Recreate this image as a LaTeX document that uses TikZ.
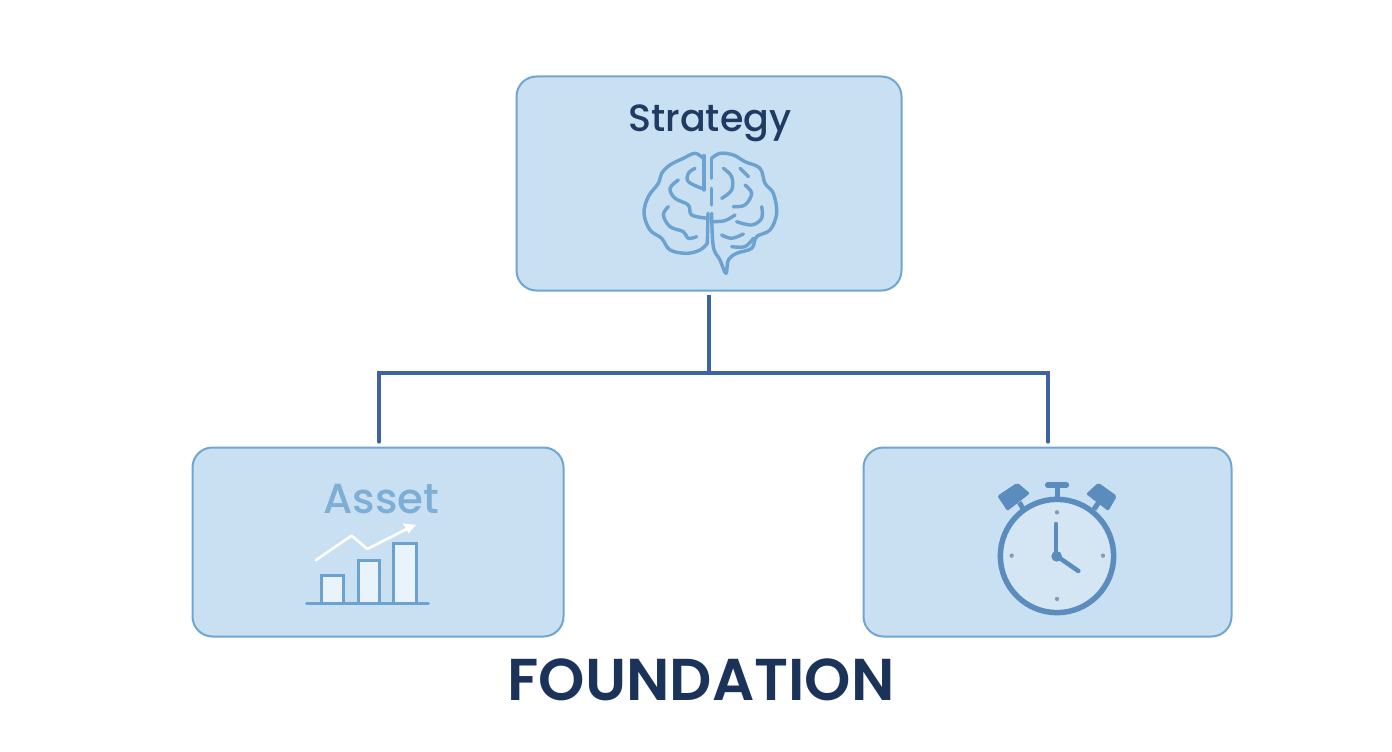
\documentclass[tikz,border=0pt]{standalone}
\usepackage{fontspec}
\setmainfont{Poppins}
\newfontfamily\medfont{Poppins Medium}
\newfontfamily\semifont{Poppins SemiBold}
\usetikzlibrary{calc}
\definecolor{boxfill}{HTML}{C9DFF2}
\definecolor{boxline}{HTML}{71A6D0}
\definecolor{conn}{HTML}{3F63A0}
\definecolor{ink}{HTML}{1F3A63}
\definecolor{founk}{HTML}{1B3259}
\definecolor{assetink}{HTML}{7DAED5}
\definecolor{brainc}{HTML}{6BA2CF}
\definecolor{barfill}{HTML}{E8F3FB}
\definecolor{clockc}{HTML}{5A8CBE}
\definecolor{clockface}{HTML}{D4E5F4}
\definecolor{tickc}{HTML}{7F9DBB}
\tikzset{
  card/.style={draw=boxline,fill=boxfill,line width=2pt,rounded corners=20pt,inner sep=0pt,anchor=north west},
  link/.style={draw=conn,line width=3.2pt},
  brainline/.style={draw=brainc,line width=3.4pt,line cap=round,line join=round,smooth,tension=0.6},
  barbox/.style={draw=brainc,fill=barfill,line width=3pt},
  zoomed/.style={x=0.3333pt,y=-0.3333pt}
}
\begin{document}
\begin{tikzpicture}[x=1pt,y=-1pt]
\path[use as bounding box,fill=white] (0,0) rectangle (1392,752);
% boxes
\node[card,minimum width=385pt,minimum height=214pt] (strategy) at (515.5,75.5) {};
\node[card,minimum width=371pt,minimum height=189pt] (asset) at (191.5,446.5) {};
\node[card,minimum width=368pt,minimum height=189pt] (clock) at (862.5,446.5) {};
% connectors
\coordinate (top) at (709,295);
\coordinate (hub) at (709,373);
\coordinate (left) at (379,373);
\coordinate (right) at (1048,373);
\coordinate (leftend) at (379,442);
\coordinate (rightend) at (1048,442);
\draw[link] (top) -- (hub);
\draw[link,line cap=round] (leftend) -- (left) -- (right) -- (rightend);
% texts
\node[text=ink,font=\fontsize{38}{38}\selectfont\medfont] (stext) at (710,123) {Strategy};
\node[text=assetink,font=\fontsize{42}{42}\selectfont\medfont] (atext) at (381.5,499) {Asset};
\node[text=founk,font=\fontsize{59}{59}\selectfont\semifont] (found) at (701,680) {FOUNDATION};
% brain
\begin{scope}[shift={(620,90)},zoomed]
\draw[brainline] plot coordinates {(250,205)(225,190)(190,205)(150,225)(125,250)(115,280)(85,320)(72,370)(90,420)(125,445)(150,480)(200,490)(240,480)(262,460)};
\draw[brainline] (252,197) -- (252,300);
\draw[brainline] (262,460) -- (264,370);
\draw[brainline] (275,205) -- (275,265);
\draw[brainline] (275,295) -- (275,345);
\draw[brainline] plot coordinates {(275,205)(300,190)(340,195)(375,215)(420,235)(435,280)(460,310)(470,370)(450,420)(410,440)(395,475)(350,490)(325,510)(318,550)(300,510)(280,470)(275,370)};
\draw[brainline] plot coordinates {(225,235)(205,250)(205,275)(245,295)};
\draw[brainline] plot coordinates {(175,270)(150,295)(165,325)(205,345)(215,375)(265,385)};
\draw[brainline] plot coordinates {(145,350)(130,375)(150,410)(190,425)(205,445)(230,440)};
\draw[brainline] plot coordinates {(310,235)(335,260)(335,300)(305,325)};
\draw[brainline] plot coordinates {(360,235)(385,260)};
\draw[brainline] plot coordinates {(375,285)(395,310)(375,345)(340,350)};
\draw[brainline] plot coordinates {(280,395)(315,392)(345,375)};
\draw[brainline] plot coordinates {(425,350)(425,385)(395,405)(350,395)};
\draw[brainline] plot coordinates {(305,435)(335,445)(370,432)};
\draw[brainline] plot coordinates {(335,470)(375,470)(400,445)};
\end{scope}
% chart
\begin{scope}[shift={(290,470)},zoomed]
\draw[barbox] (95,318) rectangle (160,400);
\draw[barbox] (205,272) rectangle (270,400);
\draw[barbox] (312,222) rectangle (380,400);
\draw[draw=brainc,line width=3pt,line cap=round] (50,402) -- (415,402);
\draw[white,line width=2.6pt,line cap=round,line join=round] (78,270) -- (185,197) -- (232,237) -- (360,172);
\fill[white] (378,165) -- (338,160) -- (356,190) -- cycle;
\end{scope}
% alarm clock
\begin{scope}[shift={(980,470)},zoomed]
\draw[draw=clockc,line width=5pt] (231,50) -- (231,90);
\draw[draw=clockc,line width=5.5pt,line cap=round] (203,45) -- (259,45);
\draw[draw=clockc,line width=5pt] (118,97) -- (130,118);
\draw[draw=clockc,line width=5pt] (356,97) -- (342,118);
\fill[clockc,rounded corners=2pt] (52,78) -- (112,38) -- (150,70) -- (82,123) -- cycle;
\fill[clockc,rounded corners=2pt] (318,72) -- (355,38) -- (411,78) -- (385,123) -- cycle;
\draw[draw=clockc,fill=clockface,line width=5.5pt] (231,258) circle [x radius=170,y radius=170];
\fill[tickc] (231,127) circle [x radius=6.5,y radius=6.5];
\fill[tickc] (231,387) circle [x radius=6.5,y radius=6.5];
\fill[tickc] (95,257) circle [x radius=6.5,y radius=6.5];
\fill[tickc] (369,257) circle [x radius=6.5,y radius=6.5];
\draw[draw=clockc,line width=4.5pt,line cap=round] (228,162) -- (228,258);
\draw[draw=clockc,line width=4.5pt,line cap=round] (230,258) -- (295,303);
\fill[clockc] (230,259) circle [x radius=16,y radius=16];
\end{scope}
\end{tikzpicture}
\end{document}
